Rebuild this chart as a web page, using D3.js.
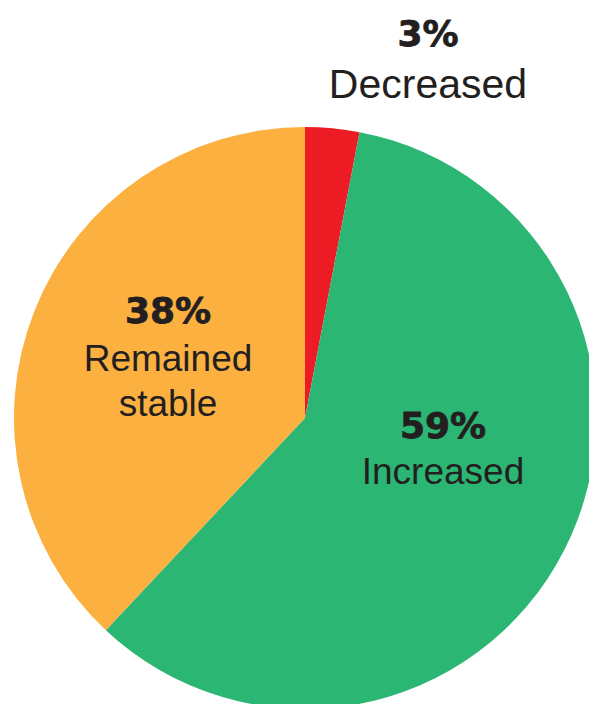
<!DOCTYPE html>
<html>
<head>
<meta charset="utf-8">
<script src="https://cdn.jsdelivr.net/npm/d3@7/dist/d3.min.js"></script>
<style>
  html, body { margin: 0; padding: 0; background: #ffffff; overflow: hidden; }
  svg { display: block; }
</style>
</head>
<body>
<svg id="chart" width="589" height="704"></svg>
<script>
// ---- data ----
const categories = ["Decreased", "Increased", "Remained stable"];
const values = [3, 59, 38];
const pctLabels = ["3%", "59%", "38%"];
const labelLines = [["Decreased"], ["Increased"], ["Remained", "stable"]];
const colors = ["#ED1C24", "#2BB673", "#FBB040"];

// ---- layout ----
const W = 589, H = 704;
const cx = 305, cy = 418, R = 291;
// label anchors relative to pie centre (dx, dy of percentage baseline)
const labelOffsets = [
  { dx: 123, dy: -372, size: 41, gap: 52 },  // Decreased (outside, above)
  { dx: 138, dy: 20, size: 37, gap: 46 },    // Increased
  { dx: -137, dy: -95, size: 37, gap: 48 }   // Remained stable
];
const pctSize = 36;
const lineGap = 45;

const svg = d3.select("#chart");

const color = d3.scaleOrdinal().domain(categories).range(colors);
const pie = d3.pie().sort(null).value(d => d.value);
const arc = d3.arc().innerRadius(0).outerRadius(R);

const data = categories.map((c, i) => ({ cat: c, value: values[i], i }));

const g = svg.append("g").attr("transform", `translate(${cx},${cy})`);

g.selectAll("path.slice")
  .data(pie(data))
  .join("path")
  .attr("class", "slice")
  .attr("d", arc)
  .attr("fill", d => color(d.data.cat));

const labels = g.selectAll("g.label")
  .data(data)
  .join("g")
  .attr("class", "label")
  .attr("transform", d => `translate(${labelOffsets[d.i].dx},${labelOffsets[d.i].dy})`);

labels.append("text")
  .attr("text-anchor", "middle")
  .attr("font-family", "'DejaVu Sans', sans-serif")
  .attr("font-weight", "bold")
  .attr("font-size", pctSize)
  .attr("fill", "#231F20")
  .attr("stroke", "#231F20")
  .attr("stroke-width", 0.8)
  .text(d => pctLabels[d.i]);

labels.each(function(d) {
  const sel = d3.select(this);
  labelLines[d.i].forEach((line, k) => {
    sel.append("text")
      .attr("text-anchor", "middle")
      .attr("y", labelOffsets[d.i].gap + k * lineGap)
      .attr("font-family", "'Liberation Sans', Arial, sans-serif")
      .attr("font-size", labelOffsets[d.i].size)
      .attr("fill", "#231F20")
      .text(line);
  });
});
</script>
</body>
</html>
